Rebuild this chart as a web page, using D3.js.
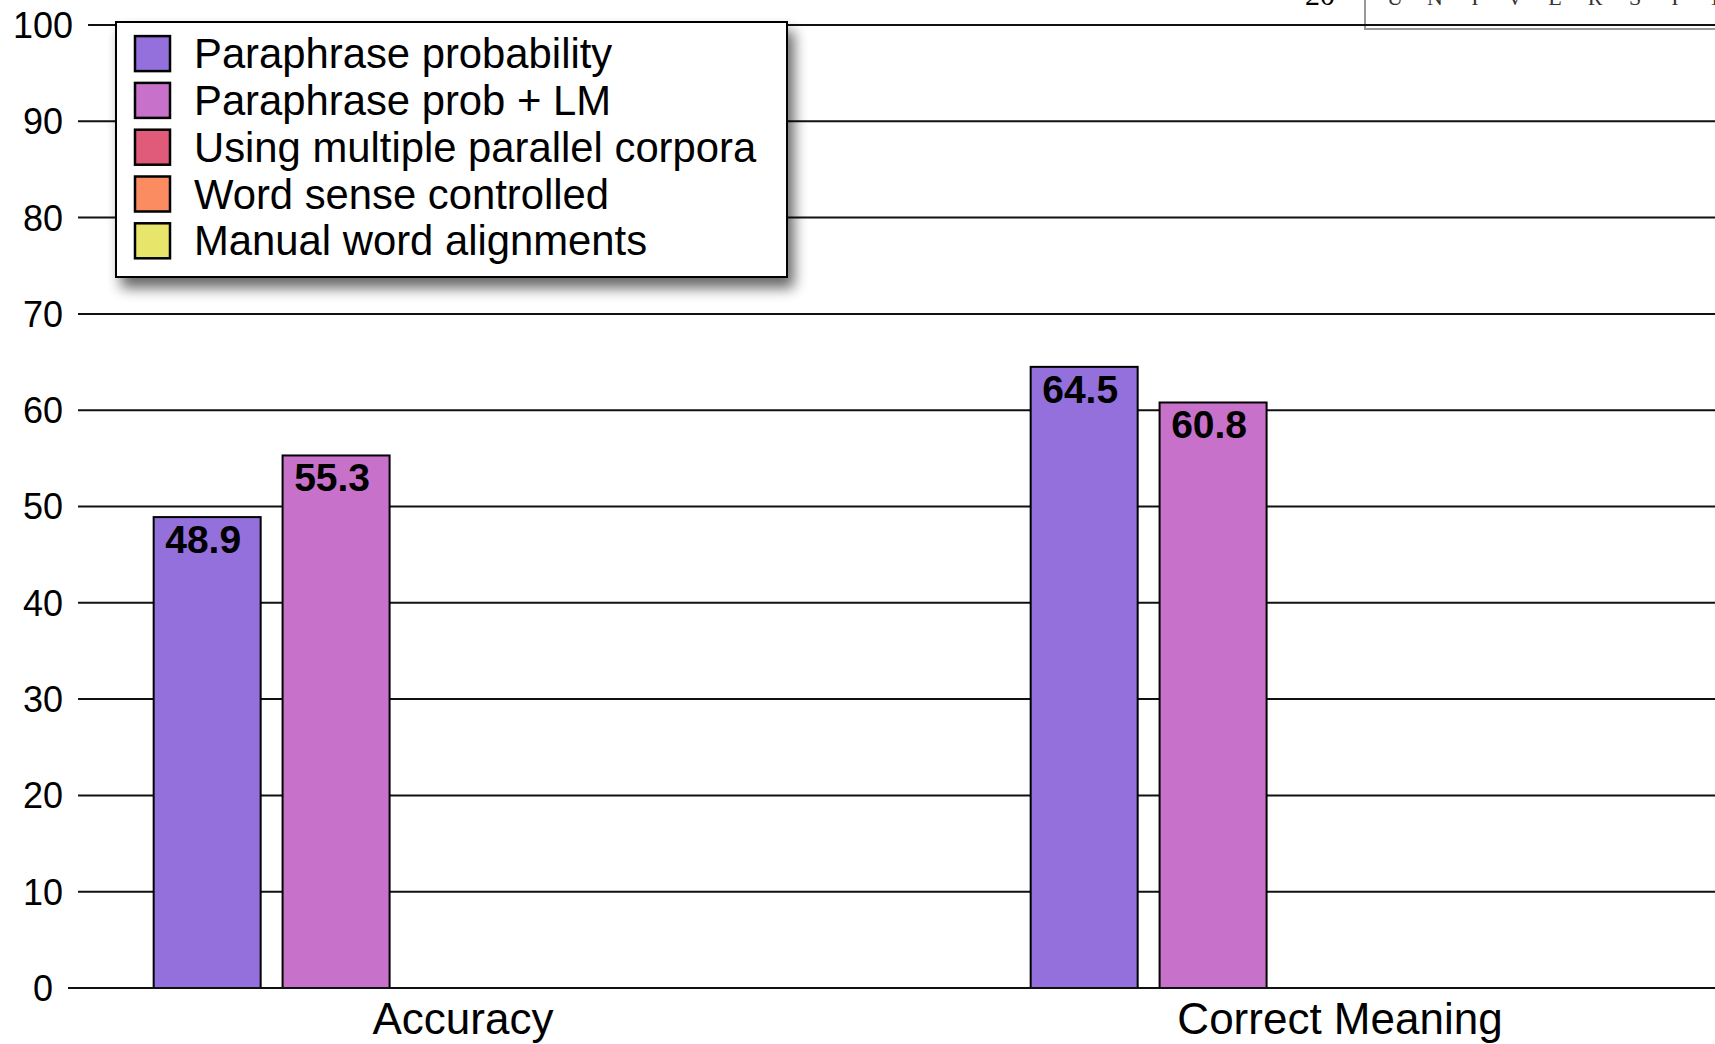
<!DOCTYPE html>
<html>
<head>
<meta charset="utf-8">
<script src="https://cdn.jsdelivr.net/npm/d3@7"></script>
<style>
  html, body { margin: 0; padding: 0; background: #fff; overflow: hidden; }
  svg { display: block; }
</style>
</head>
<body>
<svg id="chart" width="1715" height="1044"></svg>
<script>
// ---- data ----
const categories = ["Accuracy", "Correct Meaning"];
const seriesNames = [
  "Paraphrase probability",
  "Paraphrase prob + LM",
  "Using multiple parallel corpora",
  "Word sense controlled",
  "Manual word alignments"
];
const seriesColors = ["#9370DB", "#C771CB", "#E05A7A", "#FB8C62", "#E8E66A"];
const paraphraseProb = [48.9, 64.5];
const paraphraseProbLM = [55.3, 60.8];
const yTicks = [0, 10, 20, 30, 40, 50, 60, 70, 80, 90, 100];
const seriesValues = [paraphraseProb, paraphraseProbLM, null, null, null];

// ---- setup ----
const svg = d3.select("#chart");
const W = 1715, H = 1044;
const font = "'Liberation Sans', Helvetica, Arial, sans-serif";

const y = d3.scaleLinear().domain([0, 100]).range([988, 25]);
const x0 = d3.scaleBand().domain(categories).range([26.5, 1780.5])
  .paddingInner(0.29).paddingOuter(0.145);
const x1 = d3.scaleBand().domain(seriesNames).range([0, x0.bandwidth()])
  .paddingInner(0.17).paddingOuter(0);

// ---- top-right slide artifact (clipped header) ----
const hdr = svg.append("g");
hdr.append("text").attr("x", 1320).attr("y", 5).attr("text-anchor", "middle")
  .attr("font-family", "'Liberation Serif', 'DejaVu Serif', serif")
  .attr("font-size", 30).text("20");
hdr.append("rect").attr("x", 1365).attr("y", -20).attr("width", 420).attr("height", 49)
  .attr("fill", "none").attr("stroke", "#999").attr("stroke-width", 2);
"UNIVERSITY".split("").forEach((c, i) => {
  hdr.append("text").attr("x", 1395 + i * 40).attr("y", 5).attr("text-anchor", "middle")
    .attr("font-family", "'Liberation Serif', 'DejaVu Serif', serif")
    .attr("font-size", 22).attr("fill", "#333").text(c);
});

// ---- y gridlines with centered labels ----
const gy = svg.append("g");
yTicks.forEach(t => {
  const lbl = gy.append("text")
    .attr("x", 43).attr("y", y(t))
    .attr("text-anchor", "middle").attr("dy", "0.36em")
    .attr("font-family", font).attr("font-size", 36).attr("fill", "#000")
    .text(t);
  const w = lbl.node().getComputedTextLength();
  gy.append("line")
    .attr("x1", 43 + w / 2 + 15).attr("x2", W)
    .attr("y1", y(t)).attr("y2", y(t))
    .attr("stroke", "#111").attr("stroke-width", 2);
});

// ---- bars ----
const bars = svg.append("g");
categories.forEach((cat, ci) => {
  seriesNames.forEach((s, si) => {
    const vals = seriesValues[si];
    if (!vals) return;
    const v = vals[ci];
    const bx = x0(cat) + x1(s);
    bars.append("rect")
      .attr("x", bx).attr("y", y(v))
      .attr("width", x1.bandwidth()).attr("height", y(0) - y(v))
      .attr("fill", seriesColors[si]).attr("stroke", "#000").attr("stroke-width", 2);
    bars.append("text")
      .attr("x", bx + x1.bandwidth() / 2 - 4).attr("y", y(v) + 36)
      .attr("text-anchor", "middle")
      .attr("font-family", font).attr("font-weight", "bold").attr("font-size", 39)
      .text(v.toFixed(1));
  });
});

// redraw baseline on top
svg.append("line").attr("x1", 43 + 10 + 15).attr("x2", W)
  .attr("y1", y(0)).attr("y2", y(0)).attr("stroke", "#111").attr("stroke-width", 2);

// ---- category labels ----
svg.append("g").selectAll("text").data(categories).join("text")
  .attr("x", d => x0(d) + x0.bandwidth() / 2 - 2)
  .attr("y", 1034)
  .attr("text-anchor", "middle")
  .attr("font-family", font).attr("font-size", 44)
  .text(d => d);

// ---- legend ----
const defs = svg.append("defs");
const f = defs.append("filter").attr("id", "shadow")
  .attr("x", "-10%").attr("y", "-10%").attr("width", "130%").attr("height", "140%");
f.append("feGaussianBlur").attr("in", "SourceAlpha").attr("stdDeviation", 7).attr("result", "b");
f.append("feOffset").attr("in", "b").attr("dx", 6).attr("dy", 10).attr("result", "o");
f.append("feComponentTransfer").attr("in", "o").attr("result", "o2")
  .append("feFuncA").attr("type", "linear").attr("slope", 0.6);
const fm = f.append("feMerge");
fm.append("feMergeNode").attr("in", "o2");
fm.append("feMergeNode").attr("in", "SourceGraphic");

const lg = svg.append("g");
lg.append("rect").attr("x", 116).attr("y", 22).attr("width", 671).attr("height", 255)
  .attr("fill", "#fff").attr("stroke", "#000").attr("stroke-width", 2)
  .attr("filter", "url(#shadow)");
const rowY = i => 53.6 + i * 46.8;
seriesNames.forEach((s, i) => {
  lg.append("rect").attr("x", 135).attr("y", rowY(i) - 17.5).attr("width", 35).attr("height", 35)
    .attr("fill", seriesColors[i]).attr("stroke", "#000").attr("stroke-width", 2.5);
  lg.append("text").attr("x", 194).attr("y", rowY(i) + 14.5)
    .attr("font-family", font).attr("font-size", 41.8).text(s);
});
</script>
</body>
</html>
